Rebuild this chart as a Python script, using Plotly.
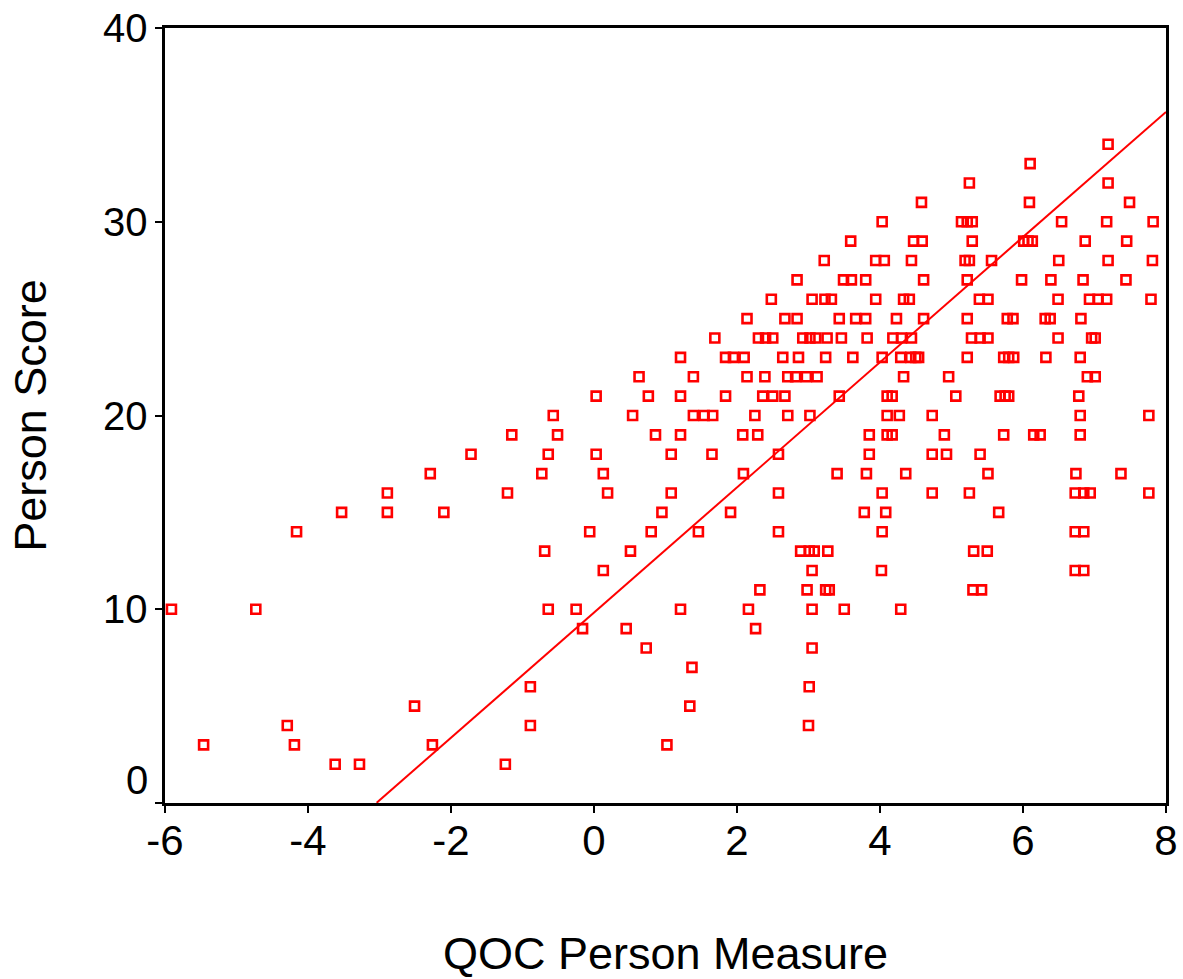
import plotly.graph_objects as go

# ---- data: QOC person measure values, grouped by person raw score ----
score_02 = [-3.62, -3.28, -1.24]
score_03 = [-5.46, -4.19, -2.26, 1.02]
score_04 = [-4.29, -0.89, 3.00]
score_05 = [-2.51, 1.34]
score_06 = [-0.89, 3.01]
score_07 = [1.37]
score_08 = [0.73, 3.05]
score_09 = [-0.16, 0.45, 2.26]
score_10 = [-5.91, -4.73, -0.64, -0.25, 1.21, 2.16, 3.05, 3.50, 4.29]
score_11 = [2.32, 2.98, 3.24, 3.29, 5.30, 5.42]
score_12 = [0.13, 3.05, 4.02, 6.73, 6.85]
score_13 = [-0.69, 0.51, 2.89, 3.01, 3.08, 3.27, 5.31, 5.50]
score_14 = [-4.16, -0.06, 0.80, 1.46, 2.58, 4.03, 6.73, 6.85]
score_15 = [-3.53, -2.89, -2.10, 0.95, 1.91, 3.78, 4.08, 5.66]
score_16 = [-2.89, -1.21, 0.19, 1.08, 2.58, 4.03, 4.73, 5.25, 6.73, 6.85, 6.94, 7.76]
score_17 = [-2.29, -0.73, 0.13, 2.09, 3.40, 3.81, 4.36, 5.51, 6.74, 7.37]
score_18 = [-1.72, -0.64, 0.03, 1.08, 1.65, 2.58, 3.85, 4.73, 4.93, 5.40]
score_19 = [-1.15, -0.51, 0.86, 1.21, 2.08, 2.29, 3.85, 4.10, 4.17, 4.90, 5.73, 6.15, 6.24, 6.80]
score_20 = [-0.57, 0.54, 1.39, 1.54, 1.66, 2.25, 2.71, 3.02, 4.10, 4.27, 4.73, 6.80, 7.76]
score_21 = [0.03, 0.76, 1.21, 1.84, 2.36, 2.50, 2.67, 3.43, 4.10, 4.17, 5.06, 5.68, 5.75, 5.80, 6.78]
score_22 = [0.63, 1.39, 2.14, 2.39, 2.71, 2.82, 2.97, 3.12, 4.33, 4.96, 6.90, 7.01]
score_23 = [1.21, 1.84, 1.95, 2.10, 2.64, 2.86, 3.24, 3.62, 4.03, 4.29, 4.43, 4.50, 4.54,
            5.22, 5.73, 5.80, 5.87, 6.32, 6.80]
score_24 = [1.69, 2.30, 2.40, 2.50, 2.92, 3.02, 3.10, 3.26, 3.46, 3.82, 4.18, 4.30, 4.44,
            5.28, 5.40, 5.51, 6.49, 6.96, 7.01]
score_25 = [2.14, 2.67, 2.84, 3.43, 3.66, 3.80, 4.23, 4.61, 5.22, 5.78, 5.86, 6.31, 6.38, 6.81]
score_26 = [2.48, 3.05, 3.23, 3.32, 3.94, 4.33, 4.41, 5.39, 5.51, 6.49, 6.93, 7.05, 7.17, 7.79]
score_27 = [2.84, 3.49, 3.60, 3.80, 4.61, 5.22, 5.98, 6.39, 6.84, 7.44]
score_28 = [3.22, 3.94, 4.06, 4.44, 5.19, 5.25, 5.56, 6.50, 7.19, 7.81]
score_29 = [3.59, 4.47, 4.59, 5.29, 6.01, 6.07, 6.13, 6.87, 7.45]
score_30 = [4.03, 5.14, 5.22, 5.29, 6.54, 7.17, 7.82]
score_31 = [4.58, 6.09, 7.49]
score_32 = [5.25, 7.19]
score_33 = [6.10]
score_34 = [7.19]

rows = {
    2: score_02, 3: score_03, 4: score_04, 5: score_05, 6: score_06, 7: score_07,
    8: score_08, 9: score_09, 10: score_10, 11: score_11, 12: score_12, 13: score_13,
    14: score_14, 15: score_15, 16: score_16, 17: score_17, 18: score_18, 19: score_19,
    20: score_20, 21: score_21, 22: score_22, 23: score_23, 24: score_24, 25: score_25,
    26: score_26, 27: score_27, 28: score_28, 29: score_29, 30: score_30, 31: score_31,
    32: score_32, 33: score_33, 34: score_34,
}

# fitted line
fit_intercept = 9.83
fit_slope = 3.23
fit_x = [-3.04, 8.0]

# axes
x_ticks = [-6, -4, -2, 0, 2, 4, 6, 8]
x_tick_labels = ["-6", "-4", "-2", "0", "2", "4", "6", "8"]
y_ticks = [0, 10, 20, 30, 40]
y_tick_labels = ["0", "10", "20", "30", "40"]

xs, ys = [], []
for s, ms in rows.items():
    for m in ms:
        xs.append(m)
        ys.append(s)

RED = "#FF0000"
FONT = "Liberation Sans, Arial, sans-serif"

fig = go.Figure()
fig.add_trace(go.Scatter(
    x=fit_x, y=[fit_intercept + fit_slope * v for v in fit_x],
    mode="lines", line=dict(color=RED, width=2), hoverinfo="skip", showlegend=False,
))
fig.add_trace(go.Scatter(
    x=xs, y=ys, mode="markers",
    marker=dict(symbol="square-open", size=9, color=RED, line=dict(width=2.6, color=RED)),
    showlegend=False,
))

annotations = []
for v, t in zip(y_ticks, y_tick_labels):
    annotations.append(dict(
        x=0, xref="paper", y=v, yref="y", text=t, showarrow=False,
        xanchor="right", yanchor="middle", xshift=-15,
        yshift=23 if v == 0 else 0,
        font=dict(family=FONT, size=40, color="black"),
    ))

fig.update_layout(
    template="none",
    width=1183, height=979,
    margin=dict(l=165, r=17, t=28, b=176),
    paper_bgcolor="white", plot_bgcolor="white",
    annotations=annotations,
    xaxis=dict(
        automargin=False,
        range=[-6, 8], tickmode="array", tickvals=x_ticks, ticktext=x_tick_labels,
        showgrid=False, zeroline=False, showline=True, mirror=True,
        linecolor="black", linewidth=3, ticks="outside", ticklen=7, tickwidth=2,
        tickcolor="black", tickfont=dict(family=FONT, size=42, color="black"),
        ticklabelstandoff=-8,
        title=dict(text="QOC Person Measure", font=dict(family=FONT, size=45, color="black"),
                   standoff=78),
    ),
    yaxis=dict(
        automargin=False,
        range=[0, 40], tickmode="array", tickvals=y_ticks, showticklabels=False,
        showgrid=False, zeroline=False, showline=True, mirror=True,
        linecolor="black", linewidth=3, ticks="outside", ticklen=7, tickwidth=2,
        tickcolor="black",
        title=dict(text="Person Score", font=dict(family=FONT, size=45, color="black"),
                   standoff=95),
    ),
)

fig.write_html("out.html")
